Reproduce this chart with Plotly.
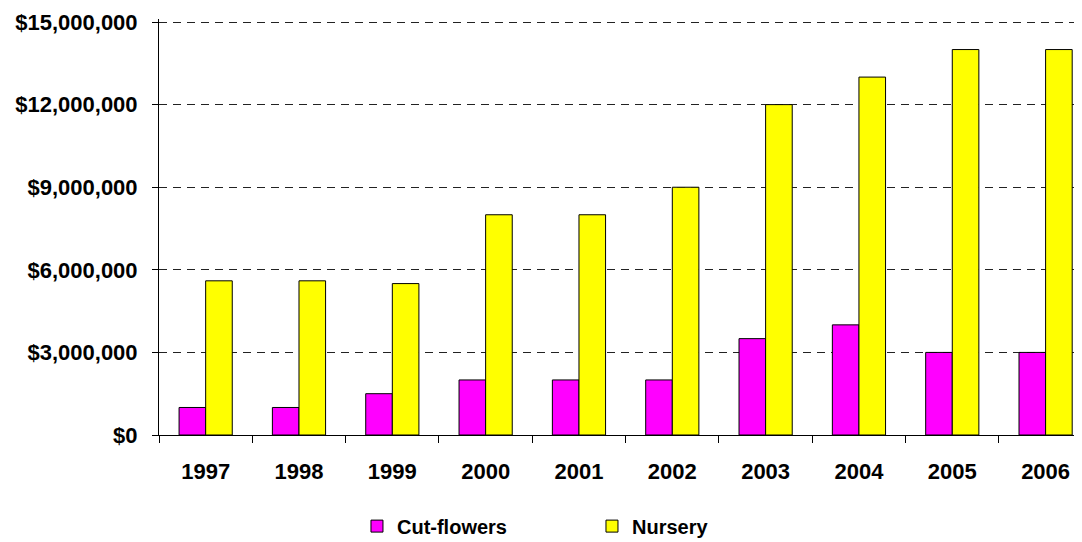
import plotly.graph_objects as go

years = ["1997", "1998", "1999", "2000", "2001", "2002", "2003", "2004", "2005", "2006"]
cut_flowers = [1000000, 1000000, 1500000, 2000000, 2000000, 2000000, 3500000, 4000000, 3000000, 3000000]
nursery = [5600000, 5600000, 5500000, 8000000, 8000000, 9000000, 12000000, 13000000, 14000000, 14000000]
y_ticks = [0, 3000000, 6000000, 9000000, 12000000, 15000000]
y_tick_labels = ["$0", "$3,000,000", "$6,000,000", "$9,000,000", "$12,000,000", "$15,000,000"]

font_family = "Liberation Sans, Arial, sans-serif"

fig = go.Figure()
fig.add_trace(go.Bar(name="<b>Cut-flowers</b>", x=years, y=cut_flowers,
                     marker=dict(color="#FF00FF", line=dict(color="black", width=1))))
fig.add_trace(go.Bar(name="<b>Nursery</b>", x=years, y=nursery,
                     marker=dict(color="#FFFF00", line=dict(color="black", width=1))))

fig.update_layout(
    width=1074, height=534,
    margin=dict(l=151, r=0, t=11, b=107, autoexpand=False),
    paper_bgcolor="white", plot_bgcolor="white",
    barmode="group", bargap=0.43, bargroupgap=0,
    font=dict(family=font_family, size=22, color="black"),
    showlegend=True,
    legend=dict(orientation="h", x=0.2145, xanchor="left", y=-0.219, yanchor="middle",
                entrywidth=190, entrywidthmode="pixels",
                font=dict(size=20, family=font_family, color="black"),
                itemwidth=30, traceorder="normal"),
)
fig.update_xaxes(
    type="category", range=[-0.5, 9.39],
    showline=True, linecolor="black", linewidth=1,
    ticks="outside", tickson="boundaries", ticklen=7, tickcolor="black",
    tickfont=dict(size=22, family=font_family, color="black"),
    tickprefix="<b>", ticksuffix="</b>",
    ticklabelstandoff=17,
    showgrid=False,
)
fig.update_yaxes(
    range=[0, 15110000],
    tickvals=y_ticks, ticktext=["<b>" + t + "</b>" for t in y_tick_labels],
    showline=True, linecolor="black", linewidth=1,
    ticks="outside", ticklen=6, tickcolor="black",
    tickfont=dict(size=22, family=font_family, color="black"),
    ticklabelstandoff=10,
    showgrid=True, gridcolor="#222222", gridwidth=1, griddash="8px,6px",
    zeroline=False,
)

fig.write_html("out.html")
